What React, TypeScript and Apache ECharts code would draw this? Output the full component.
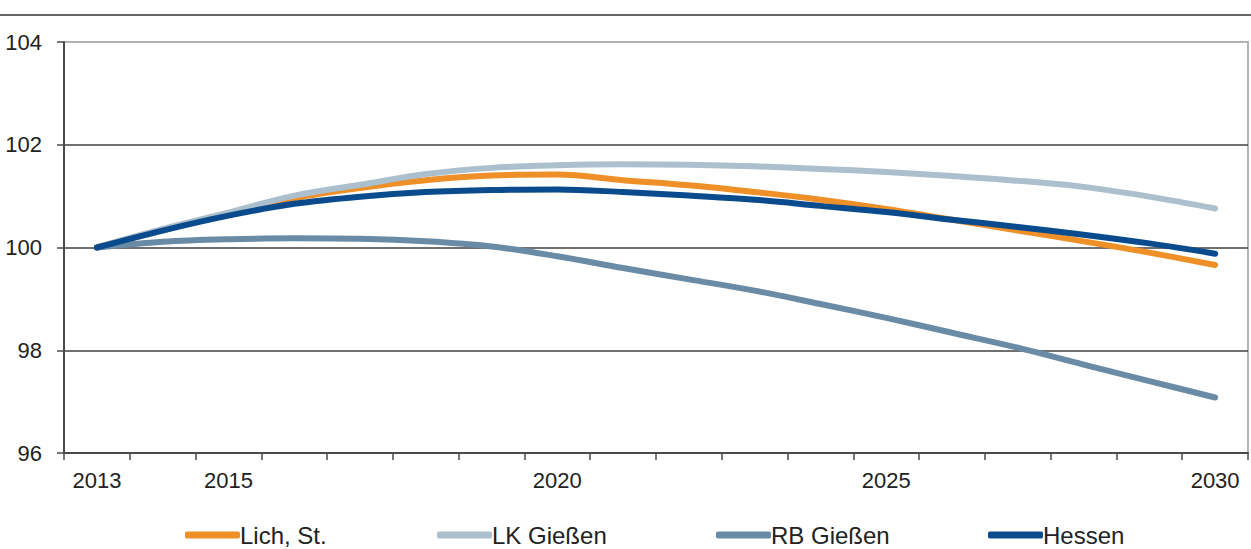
import React, { useEffect, useRef } from "react";
import * as echarts from "echarts";

const years = ["2013","2014","2015","2016","2017","2018","2019","2020","2021","2022","2023","2024","2025","2026","2027","2028","2029","2030"];
const shownYears = ["2013","2015","2020","2025","2030"];
const lich = [100, 100.34, 100.65, 100.96, 101.16, 101.31, 101.40, 101.42, 101.31, 101.21, 101.08, 100.93, 100.75, 100.54, 100.33, 100.12, 99.90, 99.66];
const lkGiessen = [100, 100.36, 100.68, 101.01, 101.22, 101.43, 101.55, 101.60, 101.62, 101.61, 101.58, 101.53, 101.47, 101.39, 101.30, 101.18, 100.99, 100.76];
const rbGiessen = [100, 100.11, 100.16, 100.18, 100.17, 100.12, 100.02, 99.83, 99.60, 99.38, 99.16, 98.90, 98.63, 98.34, 98.05, 97.72, 97.40, 97.08];
const hessen = [100, 100.33, 100.62, 100.85, 100.99, 101.08, 101.12, 101.13, 101.08, 101.01, 100.93, 100.81, 100.69, 100.54, 100.40, 100.25, 100.08, 99.88];
const seriesNames = ["Lich, St.", "LK Gießen", "RB Gießen", "Hessen"];
const seriesColors = ["#EF8F27", "#ABBFCC", "#6A8BA5", "#0A4B8D"];
const legendLefts = [185, 437, 716, 988];

const FONT = "'Liberation Sans Narrow', 'Arial Narrow', 'Liberation Sans', Arial, sans-serif";

export default function App() {
  const ref = useRef<HTMLDivElement>(null);
  useEffect(() => {
    document.body.style.margin = "0";
    const chart = echarts.init(ref.current!, null, { renderer: "svg" });
    const data = [lich, lkGiessen, rbGiessen, hessen];
    chart.setOption({
      animation: false,
      backgroundColor: "#ffffff",
      grid: { left: 64, right: 3, top: 42, bottom: 96, show: true, borderColor: "#b3b3b3", borderWidth: 2 },
      graphic: [
        { type: "line", shape: { x1: 0, y1: 15, x2: 1251, y2: 15 }, style: { stroke: "#333333", lineWidth: 1.5 } },
      ],
      legend: seriesNames.map((name, i) => ({
        top: 521,
        left: legendLefts[i],
        padding: 0,
        itemWidth: 55,
        itemHeight: 7,
        icon: "roundRect",
        textStyle: { fontFamily: FONT, fontSize: 24, lineHeight: 28, color: "#222222", padding: [0, 0, 0, -5] },
        data: [name],
      })),
      xAxis: {
        type: "category",
        data: years,
        boundaryGap: true,
        axisLine: { lineStyle: { color: "#4a4a4a", width: 2 } },
        axisTick: { show: true, interval: 0, length: 7, lineStyle: { color: "#4a4a4a", width: 1.5 } },
        axisLabel: {
          interval: (_i: number, v: string) => shownYears.includes(v),
          fontFamily: FONT,
          fontSize: 22,
          color: "#222222",
          margin: 16,
        },
        splitLine: { show: false },
      },
      yAxis: {
        type: "value",
        min: 96,
        max: 104,
        interval: 2,
        axisLine: { show: true, lineStyle: { color: "#4a4a4a", width: 2 } },
        axisTick: { show: true, length: 7, lineStyle: { color: "#4a4a4a", width: 1.5 } },
        axisLabel: { fontFamily: FONT, fontSize: 22, color: "#222222", margin: 22 },
        splitLine: { show: true, lineStyle: { color: ["#404040", "#404040", "#404040", "#404040", "#b3b3b3"], width: 1.5 } },
      },
      series: seriesNames.map((name, i) => ({
        name,
        type: "line",
        data: data[i],
        smooth: 0.35,
        symbol: "none",
        color: seriesColors[i],
        lineStyle: { width: 6, color: seriesColors[i], cap: "round", join: "round" },
      })),
    });
    return () => chart.dispose();
  }, []);
  return <div ref={ref} style={{ position: "absolute", left: 0, top: 0, width: 1251, height: 549 }} />;
}
